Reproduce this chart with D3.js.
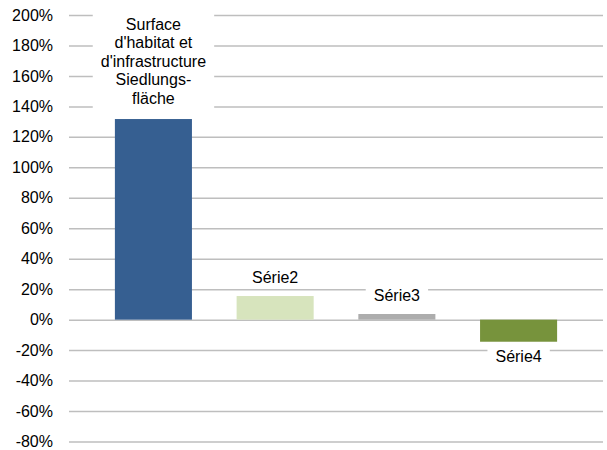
<!DOCTYPE html>
<html>
<head>
<meta charset="utf-8">
<script src="https://cdn.jsdelivr.net/npm/d3@7"></script>
<style>
  html, body { margin: 0; padding: 0; background: #fff; }
  svg { display: block; font-family: "Liberation Sans", Arial, sans-serif; }
</style>
</head>
<body>
<svg id="chart" width="607" height="450"></svg>
<script>
// Change in percent per category
const categories = ["cat1", "cat2", "cat3", "cat4"];
const values = [131.7, 15.5, 3.7, -14.5];
const labelLines = [
  ["Surface", "d'habitat et", "d'infrastructure", "Siedlungs-", "fläche"],
  ["Série2"],
  ["Série3"],
  ["Série4"]
];
const colors = ["#365F91", "#D7E4BD", "#ADADAD", "#77933C"];
const yTicks = [200, 180, 160, 140, 120, 100, 80, 60, 40, 20, 0, -20, -40, -60, -80];

const svg = d3.select("#chart");
const plotLeft = 69, plotRight = 603, plotTop = 15, plotBottom = 441.5;

const x = d3.scaleBand()
  .domain(categories)
  .range([plotLeft, plotRight])
  .paddingInner(0.367)
  .paddingOuter(0.377);

const y = d3.scaleLinear().domain([-80, 200]).range([plotBottom, plotTop]);

// Gridlines and tick labels via the axis generator
const yAxis = d3.axisLeft(y)
  .tickValues(yTicks)
  .tickSize(-(plotRight - plotLeft))
  .tickPadding(16)
  .tickFormat(d => d + "%");

const gAxis = svg.append("g")
  .attr("transform", `translate(${plotLeft},0)`)
  .call(yAxis);
gAxis.select(".domain").remove();
gAxis.selectAll(".tick line")
  .attr("stroke", "#BEBEBE")
  .attr("stroke-width", 1.5);
gAxis.selectAll(".tick text")
  .attr("fill", "#000")
  .style("font-size", "16px")
  .attr("x", -16);

// Bars
svg.append("g").selectAll("rect")
  .data(values)
  .join("rect")
  .attr("x", (d, i) => x(categories[i]))
  .attr("width", x.bandwidth())
  .attr("y", d => y(Math.max(0, d)))
  .attr("height", d => Math.abs(y(d) - y(0)))
  .attr("fill", (d, i) => colors[i]);

// Data labels with white background boxes
const lineH = 18.5;
const gLabels = svg.append("g");
values.forEach((v, i) => {
  const lines = labelLines[i];
  const cx = x(categories[i]) + x.bandwidth() / 2;
  let firstBase;
  if (v >= 0) {
    const lastBase = y(v) - 13 - (lines.length > 1 ? 2.5 : 0);
    firstBase = lastBase - (lines.length - 1) * lineH;
  } else {
    firstBase = y(v) + 20.5;
  }
  const g = gLabels.append("g");
  const rect = g.append("rect").attr("fill", "#fff");
  const t = g.append("text")
    .attr("text-anchor", "middle")
    .style("font-size", "16px")
    .attr("fill", "#000");
  lines.forEach((ln, k) => {
    t.append("tspan")
      .attr("x", cx)
      .attr("y", firstBase + k * lineH)
      .text(ln);
  });
  const bb = t.node().getBBox();
  rect.attr("x", bb.x - 8)
    .attr("y", bb.y - 3)
    .attr("width", bb.width + 16)
    .attr("height", bb.height + 5);
});
</script>
</body>
</html>
